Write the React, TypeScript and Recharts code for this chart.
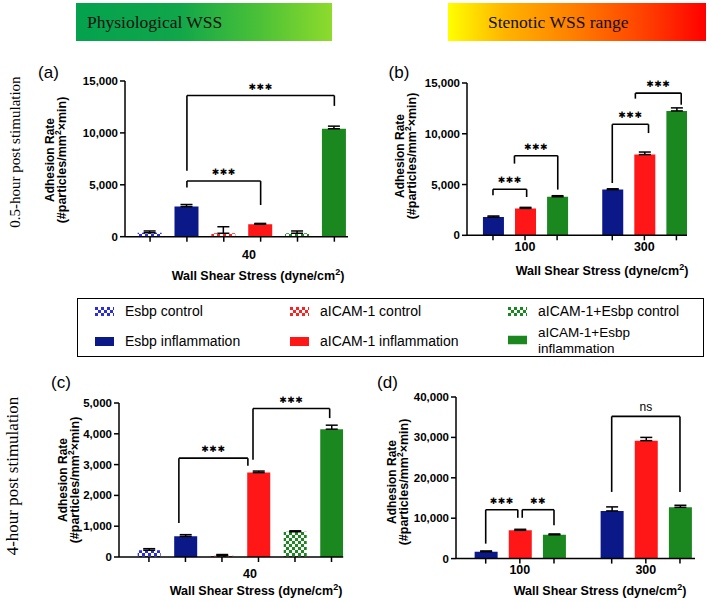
import React from 'react'
import { BarChart, Bar, XAxis, YAxis, ErrorBar, Cell, ReferenceLine } from 'recharts'

// order of bars inside each panel
const SERIES = [
  'Esbp control',
  'Esbp inflammation',
  'aICAM-1 control',
  'aICAM-1 inflammation',
  'aICAM-1+Esbp control',
  'aICAM-1+Esbp inflammation',
]
const PANEL_AC_SERIES = [0, 1, 2, 3, 4, 5]
const PANEL_BD_SERIES = [1, 3, 5, 1, 3, 5]

const A_VALUES = [380, 2900, 330, 1200, 330, 10400]
const A_ERRORS = [170, 200, 630, 80, 220, 250]
const B_VALUES = [1800, 2650, 3800, 4500, 7950, 12250]
const B_ERRORS = [100, 100, 100, 80, 250, 300]
const C_VALUES = [220, 670, 40, 2740, 820, 4150]
const C_ERRORS = [50, 55, 40, 50, 30, 130]
const D_VALUES = [1700, 7000, 5900, 11800, 29200, 12700]
const D_ERRORS = [200, 250, 200, 1000, 800, 500]

const AC_TICK_LABELS = ['', '', '', '', '', '']
const BD_TICK_LABELS = ['', '100', '', '', '300', '']

const TICKS_15K = [0, 5000, 10000, 15000]
const TICKS_5K = [0, 1000, 2000, 3000, 4000, 5000]
const TICKS_40K = [0, 10000, 20000, 30000, 40000]

// significance brackets: from/to in bar-index units, y = bracket height, yl/yr = leg ends
const A_BRACKETS = [
  { from: 1, to: 5, y: 13600, yl: 6360, yr: 12600, text: '***' },
  { from: 1, to: 3, y: 5360, yl: 4750, yr: 3050, text: '***' },
]
const B_BRACKETS = [
  { from: 0, to: 1.05, y: 4530, yl: 3940, yr: 3770, text: '***' },
  { from: 0.67, to: 2.02, y: 7840, yl: 7060, yr: 4500, text: '***' },
  { from: 3, to: 4.13, y: 10930, yl: 5150, yr: 10070, text: '***' },
  { from: 3.72, to: 5.15, y: 14000, yl: 13460, yr: 12860, text: '***' },
]
const C_BRACKETS = [
  { from: 0.82, to: 2.71, y: 3210, yl: 1100, yr: 2960, text: '***' },
  { from: 2.85, to: 4.95, y: 4820, yl: 3160, yr: 4510, text: '***' },
]
const D_BRACKETS = [
  { from: 0, to: 0.94, y: 12100, yl: 3700, yr: 10100, text: '***' },
  { from: 1.07, to: 2, y: 12100, yl: 10100, yr: 8250, text: '**' },
  { from: 3, to: 5, y: 35200, yl: 16500, yr: 16500, text: 'ns' },
]

const NAVY = '#0b1888'
const RED = '#ff1717'
const GREEN = '#1b871f'
const FILLS = [
  'url(#chk-blue)', NAVY,
  'url(#chk-red)', RED,
  'url(#chk-green)', GREEN,
]
const FONT = '"Liberation Sans", Arial, sans-serif'
const SERIF = '"Liberation Serif", "Times New Roman", serif'

type Bracket = { from: number; to: number; y: number; yl: number; yr: number; text: string }

interface PanelProps {
  x0: number
  x1: number
  yTop: number
  yBot: number
  yMax: number
  yTicks: number[]
  values: number[]
  errors: number[]
  series: number[]
  tickLabels: string[]
  gap: number
  domain: [number, number]
  barSize: number
  brackets: Bracket[]
}

const YW = 55
const MT = 24
const MR = 8
const XH = 30

function Panel(p: PanelProps) {
  const pos = (i: number) => (i > 2.5 ? i + p.gap : i)
  const data = p.values.map((v, i) => ({
    x: pos(i),
    v,
    err: [0, p.errors[i]],
    s: p.series[i],
  }))
  const width = YW + (p.x1 - p.x0) + MR
  const height = MT + (p.yBot - p.yTop) + XH
  const tickStyle = { fill: '#000', fontSize: 11.5, fontWeight: 700, fontFamily: FONT }
  return (
    <div style={{ position: 'absolute', left: p.x0 - YW, top: p.yTop - MT }}>
      <BarChart width={width} height={height} data={data} margin={{ top: MT, right: MR, left: 0, bottom: 0 }}>
        <XAxis
          dataKey="x"
          type="number"
          domain={p.domain}
          allowDataOverflow
          ticks={data.map(d => d.x)}
          interval={0}
          tickFormatter={(_v: number, i: number) => p.tickLabels[i] ?? ''}
          tick={{ fill: '#000', fontSize: 12.5, fontWeight: 700, fontFamily: FONT }}
          axisLine={{ stroke: '#000', strokeWidth: 1.5 }}
          tickLine={{ stroke: '#000', strokeWidth: 1.5 }}
          tickSize={5}
          height={XH}
        />
        <YAxis
          type="number"
          domain={[0, p.yMax]}
          ticks={p.yTicks}
          interval={0}
          tickFormatter={(v: number) => v.toLocaleString('en-US')}
          tick={tickStyle}
          axisLine={{ stroke: '#000', strokeWidth: 1.5 }}
          tickLine={{ stroke: '#000', strokeWidth: 1.5 }}
          tickSize={5}
          width={YW}
        />
        <Bar dataKey="v" barSize={p.barSize} isAnimationActive={false}>
          {data.map((d, i) => (
            <Cell key={i} fill={FILLS[d.s]} />
          ))}
          <ErrorBar dataKey="err" width={6} stroke="#000" strokeWidth={1.5} direction="y" isAnimationActive={false} />
        </Bar>
        {p.brackets.flatMap((b, i) => [
          <ReferenceLine key={`l${i}`} segment={[{ x: pos(b.from), y: b.yl }, { x: pos(b.from), y: b.y }]} stroke="#000" strokeWidth={1.6} ifOverflow="visible" />,
          <ReferenceLine key={`r${i}`} segment={[{ x: pos(b.to), y: b.yr }, { x: pos(b.to), y: b.y }]} stroke="#000" strokeWidth={1.6} ifOverflow="visible" />,
          <ReferenceLine
            key={`h${i}`}
            segment={[{ x: pos(b.from), y: b.y }, { x: pos(b.to), y: b.y }]}
            stroke="#000"
            strokeWidth={1.6}
            ifOverflow="visible"
            label={{
              value: b.text === 'ns' ? 'ns' : b.text.replace(/\*/g, '✱'),
              position: 'top',
              offset: b.text === 'ns' ? 5 : 6,
              fill: '#000',
              fontSize: b.text === 'ns' ? 12 : 9,
              fontFamily: b.text === 'ns' ? FONT : '"DejaVu Sans", sans-serif',
              letterSpacing: b.text === 'ns' ? 0 : 0.5,
            }}
          />,
        ])}
      </BarChart>
    </div>
  )
}

function Txt(props: { x: number; y: number; size: number; bold?: boolean; serif?: boolean; rotate?: boolean; children: React.ReactNode; lh?: number }) {
  const { x, y, size, bold, serif, rotate, children, lh } = props
  return (
    <div
      style={{
        position: 'absolute',
        left: x,
        top: y,
        transform: `translate(-50%, -50%)${rotate ? ' rotate(-90deg)' : ''}`,
        fontSize: size,
        fontWeight: bold ? 700 : 400,
        fontFamily: serif ? SERIF : FONT,
        whiteSpace: 'nowrap',
        lineHeight: lh ?? 1.1,
        textAlign: 'center',
        color: '#000',
      }}
    >
      {children}
    </div>
  )
}

function YLabel({ x, y }: { x: number; y: number }) {
  return (
    <Txt x={x} y={y} size={12} bold rotate lh={1.0}>
      <div>Adhesion Rate</div>
      <div style={{ fontSize: 12.5 }}>(#particles/mm<sup style={{ fontSize: 8.5, lineHeight: 0 }}>2</sup>×min)</div>
    </Txt>
  )
}

function XTitle({ x, y }: { x: number; y: number }) {
  return (
    <Txt x={x} y={y} size={12.5} bold>
      Wall Shear Stress (dyne/cm<sup style={{ fontSize: 9, lineHeight: 0 }}>2</sup>)
    </Txt>
  )
}

function LegendIcon({ s }: { s: number }) {
  return (
    <svg width={19} height={9} style={{ display: 'block', flex: 'none' }}>
      <rect x={0} y={0} width={19} height={9} fill={FILLS[s]} />
    </svg>
  )
}

const LEGEND_POS = [
  { x: 17, y: 12 },
  { x: 17, y: 42 },
  { x: 212, y: 12 },
  { x: 212, y: 42 },
  { x: 430, y: 12 },
  { x: 430, y: 41 },
]

function Legend() {
  return (
    <div style={{ position: 'absolute', left: 77, top: 298, width: 625, height: 57, border: '1.5px solid #000' }}>
      {SERIES.map((name, s) => {
        const pos = LEGEND_POS[s]
        const twoLine = s === 5
        return (
          <div key={s} style={{ position: 'absolute', left: pos.x, top: pos.y, transform: 'translateY(-50%)', display: 'flex', alignItems: 'center' }}>
            <LegendIcon s={s} />
            <div style={{ marginLeft: 11, fontFamily: FONT, fontSize: twoLine ? 13.5 : 14, lineHeight: twoLine ? '15.5px' : '16px', whiteSpace: 'nowrap' }}>
              {twoLine ? (<><div>aICAM-1+Esbp</div><div>inflammation</div></>) : name}
            </div>
          </div>
        )
      })}
    </div>
  )
}

export default function App() {
  return (
    <div style={{ position: 'absolute', left: 0, top: 0, width: 709, height: 602, background: '#fff', overflow: 'hidden' }}>
      <svg width={0} height={0} style={{ position: 'absolute' }}>
        <defs>
          {[['chk-blue', '#2a2ee0'], ['chk-red', '#ff2020'], ['chk-green', '#1b871f']].map(([id, c]) => (
            <pattern key={id} id={id} width={6} height={6} patternUnits="userSpaceOnUse">
              <rect x={0} y={0} width={6} height={6} fill="#fff" />
              <rect x={0} y={0} width={3} height={3} fill={c} />
              <rect x={3} y={3} width={3} height={3} fill={c} />
            </pattern>
          ))}
        </defs>
      </svg>

      {/* banners */}
      <div style={{ position: 'absolute', left: 76, top: 3, width: 256, height: 38, background: 'linear-gradient(to right, #04a24e 0%, #10a64a 40%, #4cc137 72%, #8edb2c 100%)' }}>
        <div style={{ position: 'absolute', left: 11, top: 0, lineHeight: '38px', fontFamily: SERIF, fontSize: 17.5, color: '#111' }}>Physiological WSS</div>
      </div>
      <div style={{ position: 'absolute', left: 448, top: 3, width: 258, height: 38, background: 'linear-gradient(to right, #ffff00 0%, #ffb400 22%, #ff8000 48%, #ff3c00 78%, #ff0000 100%)' }}>
        <div style={{ position: 'absolute', left: 40, top: 0, lineHeight: '38px', fontFamily: SERIF, fontSize: 17.5, color: '#111' }}>Stenotic WSS range</div>
      </div>

      {/* side labels */}
      <Txt x={15} y={152} size={15} serif rotate>0.5-hour post stimulation</Txt>
      <Txt x={13} y={476} size={17} serif rotate>4-hour post stimulation</Txt>

      {/* panel labels */}
      <Txt x={48.5} y={72.5} size={17}>(a)</Txt>
      <Txt x={399} y={72.5} size={17}>(b)</Txt>
      <Txt x={61} y={382.5} size={17}>(c)</Txt>
      <Txt x={387.5} y={382.5} size={17}>(d)</Txt>

      <Panel x0={125} x1={348} yTop={81} yBot={236.7} yMax={15000} yTicks={TICKS_15K}
        values={A_VALUES} errors={A_ERRORS} series={PANEL_AC_SERIES} tickLabels={AC_TICK_LABELS}
        gap={0} domain={[-0.68, 5.37]} barSize={24} brackets={A_BRACKETS} />
      <Panel x0={466.7} x1={686.7} yTop={82.7} yBot={235} yMax={15000} yTicks={TICKS_15K}
        values={B_VALUES} errors={B_ERRORS} series={PANEL_BD_SERIES} tickLabels={BD_TICK_LABELS}
        gap={0.72} domain={[-0.81, 6.05]} barSize={21} brackets={B_BRACKETS} />
      <Panel x0={119.3} x1={343.5} yTop={403.3} yBot={557.3} yMax={5000} yTicks={TICKS_5K}
        values={C_VALUES} errors={C_ERRORS} series={PANEL_AC_SERIES} tickLabels={AC_TICK_LABELS}
        gap={0} domain={[-0.82, 5.32]} barSize={23} brackets={C_BRACKETS} />
      <Panel x0={456} x1={695} yTop={396.7} yBot={558.3} yMax={40000} yTicks={TICKS_40K}
        values={D_VALUES} errors={D_ERRORS} series={PANEL_BD_SERIES} tickLabels={BD_TICK_LABELS}
        gap={0.69} domain={[-0.87, 6.13]} barSize={23} brackets={D_BRACKETS} />

      {/* axis labels */}
      <YLabel x={56} y={160} />
      <YLabel x={406} y={156} />
      <YLabel x={69} y={480} />
      <YLabel x={397.5} y={482} />

      <Txt x={249} y={256} size={12.5} bold>40</Txt>
      <Txt x={250} y={575} size={12.5} bold>40</Txt>
      <XTitle x={258} y={277} />
      <XTitle x={602} y={272} />
      <XTitle x={256} y={592} />
      <XTitle x={600} y={592} />

      <Legend />
    </div>
  )
}
